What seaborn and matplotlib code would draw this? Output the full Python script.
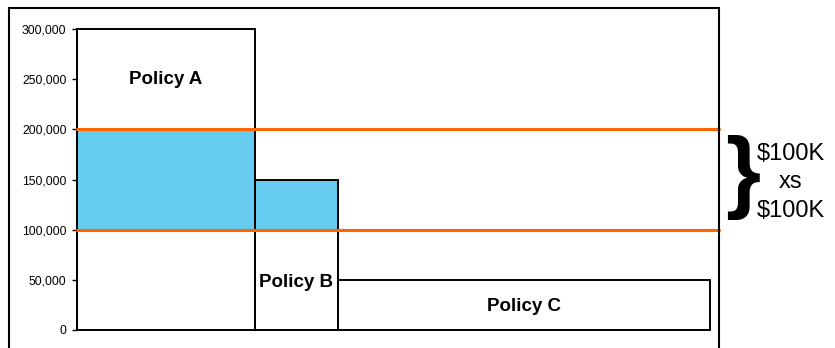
import numpy as np
import pandas as pd
import matplotlib
matplotlib.use("Agg")
import matplotlib.pyplot as plt
from matplotlib.patches import Rectangle
from matplotlib.ticker import FuncFormatter
import seaborn as sns

# Tower of policies: limits and relative widths of each block
policies = ["Policy A", "Policy B", "Policy C"]
limits = [300000, 150000, 50000]
widths = [27.7, 12.9, 58.0]
label_y = [250000, 47000, 23000]

# Layer of interest: $100K xs $100K
layer_bottom = 100000
layer_top = 200000
layer_lines = ["$100K", "xs", "$100K"]

y_ticks = [0, 50000, 100000, 150000, 200000, 250000, 300000]

sns.set_style("white")
plt.rcParams["font.family"] = ["Liberation Sans", "DejaVu Sans"]
plt.rcParams["text.color"] = "black"
plt.rcParams["ytick.color"] = "black"
plt.rcParams["axes.labelcolor"] = "black"

BLUE = "#66CCF0"
ORANGE = "#FF6600"

fig = plt.figure(figsize=(8.35, 3.48), dpi=100)
ax = fig.add_axes([77 / 835, 18 / 348, 642 / 835, 301 / 348])

widths_arr = np.asarray(widths, dtype=float)
edges = np.concatenate([[0.0], np.cumsum(widths_arr)])
lefts = edges[:-1]
centers = lefts + widths_arr / 2

# Portion of each policy that falls inside the layer
lim_arr = np.asarray(limits, dtype=float)
layer_part = np.clip(lim_arr, layer_bottom, layer_top) - layer_bottom
ax.bar(lefts, layer_part, bottom=layer_bottom, width=widths_arr, align="edge",
       color=BLUE, linewidth=0, zorder=2)

# Policy outlines
tower = pd.DataFrame({"pos": centers, "limit": lim_arr, "policy": policies})
sns.histplot(data=tower, x="pos", weights="limit", bins=list(edges),
             fill=False, color="black", linewidth=1.4, ax=ax, zorder=3)
for p in ax.patches:
    p.set_clip_on(False)

for yv in (layer_bottom, layer_top):
    ax.axhline(yv, color=ORANGE, linewidth=2.2, zorder=4, clip_on=False)

for name, cx, ly in zip(policies, centers, label_y):
    ax.text(cx, ly, name, ha="center", va="center", fontsize=13.5,
            fontweight="bold", color="black", zorder=5)

ax.set_xlim(0, 100)
ax.set_ylim(0, 300000)
ax.set_yticks(y_ticks)
ax.yaxis.set_major_formatter(FuncFormatter(lambda v, _: f"{int(v):,}"))
ax.set_xticks([])
ax.set_xlabel("")
ax.set_ylabel("")
ax.tick_params(axis="y", left=True, length=3.5, width=1, pad=4,
               labelsize=8.8, color="black", labelcolor="black")
for side in ("top", "right", "bottom"):
    ax.spines[side].set_visible(False)
ax.spines["left"].set_color("black")
ax.spines["left"].set_linewidth(1.4)
ax.patch.set_alpha(0)

# Outer chart frame
frame = Rectangle((9 / 835, -0.05), (719 - 9) / 835, 1 - 8 / 348 + 0.05,
                  transform=fig.transFigure, fill=False, edgecolor="black",
                  linewidth=1.5, clip_on=False)
fig.add_artist(frame)

# Brace and layer annotation
fig.text(743 / 835, 1 - 178 / 348, "}", ha="center", va="center",
         fontsize=65, fontweight="bold", color="black")
for line, base_px in zip(layer_lines, (160, 188.5, 217)):
    fig.text(791 / 835, 1 - base_px / 348, line.replace("$", "\\$"),
             ha="center", va="baseline", fontsize=17, color="black")

fig.savefig("out.png", dpi=100)
